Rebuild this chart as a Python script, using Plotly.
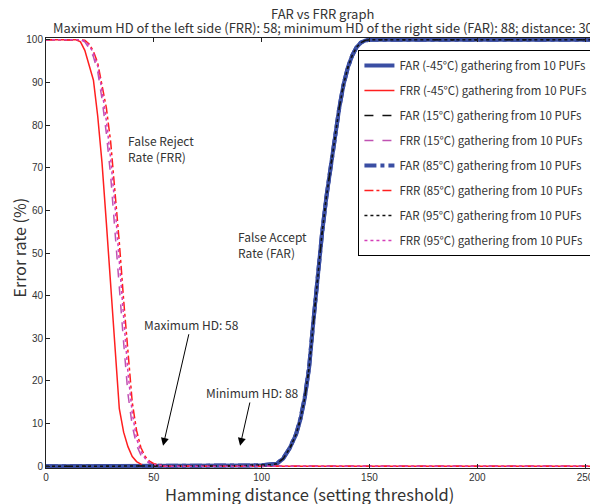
import plotly.graph_objects as go

# ---- data ----
hd_far = [0, 87, 88, 95, 100, 105, 107, 110, 113, 116, 118, 120, 122, 124, 126,
          128, 130, 132, 134, 136, 138, 140, 142, 144, 146, 148, 150, 256]
far_m45 = [0, 0, 0.1, 0.2, 0.25, 0.4, 0.6, 1.8, 4.2, 7.5, 11, 16, 23, 34, 45,
           54.5, 63, 69.5, 77, 84, 89.5, 93.5, 96.3, 98.2, 99.3, 99.8, 100, 100]
far_15 = [0, 0, 0.1, 0.2, 0.25, 0.4, 0.6, 1.8, 4.1, 7.4, 11, 16, 23, 34, 45,
          54.5, 63, 69.5, 77, 84, 89.5, 93.5, 96.3, 98.2, 99.3, 99.8, 100, 100]
far_85 = [0, 0, 0.1, 0.2, 0.25, 0.4, 0.6, 1.9, 4.3, 7.6, 11.2, 16.2, 23.2, 34, 45,
          54.5, 63, 69.5, 77, 84, 89.5, 93.5, 96.3, 98.2, 99.3, 99.8, 100, 100]
far_95 = [0, 0, 0.1, 0.2, 0.25, 0.4, 0.6, 1.8, 4.2, 7.5, 11, 16, 23, 34, 45,
          54.5, 63, 69.5, 77, 84, 89.5, 93.5, 96.3, 98.2, 99.3, 99.8, 100, 100]

hd_frr = [0, 14, 16, 18, 20, 22, 24, 26, 28, 30, 32, 34, 36, 38, 40, 42, 44,
          46, 48, 50, 52, 54, 56, 58, 60, 256]
frr_m45 = [100, 100, 99.5, 97.5, 94, 90.5, 82, 71, 57, 43, 28, 13.5, 8, 4.6,
           2.3, 1.1, 0.5, 0.2, 0, 0, 0, 0, 0, 0, 0, 0]
frr_15 = [100, 100, 100, 99.5, 98, 96, 92.5, 86, 78, 68, 56, 42, 29, 17, 9.5,
          5, 2.6, 1.4, 0.7, 0.35, 0.15, 0, 0, 0, 0, 0]
frr_85 = [100, 100, 100, 99.9, 99, 97.3, 94.5, 89.5, 84, 76, 65, 52.5, 39, 26,
          15, 8.4, 4.4, 2.3, 1.2, 0.6, 0.3, 0.15, 0.05, 0, 0, 0]
frr_95 = [100, 100, 100, 99.7, 98.7, 96.8, 93.8, 88, 81, 72, 61, 48, 35, 22,
          12.5, 6.5, 3.5, 1.8, 0.9, 0.45, 0.2, 0.05, 0, 0, 0, 0]

x_ticks = [0, 50, 100, 150, 200, 250]
y_ticks = [0, 10, 20, 30, 40, 50, 60, 70, 80, 90, 100]

title1 = "FAR vs FRR graph"
title2 = ("Maximum HD of the left side (FRR): 58; minimum HD of the right side "
          "(FAR): 88; distance: 30")
x_title = "Hamming distance (setting threshold)"
y_title = "Error rate (%)"

BLUE = "#3a4ea3"
RED = "#ff1f1f"
MAG = "#c052b2"
MAG2 = "#d43fb8"
JP = "Noto Sans CJK JP"
TXT = "#333333"

series = [
    ("FAR (-45°C) gathering from 10 PUFs", hd_far, far_m45, BLUE, "solid", 4),
    ("FRR (-45°C) gathering from 10 PUFs", hd_frr, frr_m45, RED, "solid", 1.5),
    ("FAR (15°C) gathering from 10 PUFs", hd_far, far_15, "#111111", "dash", 1.5),
    ("FRR (15°C) gathering from 10 PUFs", hd_frr, frr_15, MAG, "dash", 1.5),
    ("FAR (85°C) gathering from 10 PUFs", hd_far, far_85, BLUE, "dashdot", 4),
    ("FRR (85°C) gathering from 10 PUFs", hd_frr, frr_85, RED, "dashdot", 1.5),
    ("FAR (95°C) gathering from 10 PUFs", hd_far, far_95, "#111111", "dot", 1.5),
    ("FRR (95°C) gathering from 10 PUFs", hd_frr, frr_95, MAG2, "dot", 1.5),
]

fig = go.Figure()
for i, (name, xs, ys, col, dash, w) in enumerate(series):
    fig.add_trace(go.Scatter(x=xs, y=ys, mode="lines", name=name,
                             legendgroup=f"g{i}",
                             line=dict(color=col, dash=dash, width=w)))

ann_font = dict(family=JP, size=12, color=TXT)
annotations = [
    dict(text=title1, xref="paper", yref="paper", x=0.5, y=1, yshift=24.5,
         yanchor="middle", showarrow=False,
         font=dict(family=JP, size=13, color=TXT)),
    dict(text=title2, xref="paper", yref="paper", x=0.5, y=1, xshift=1,
         yshift=11, yanchor="middle", showarrow=False,
         font=dict(family=JP, size=12.9, color=TXT)),
    dict(text=x_title, xref="paper", yref="paper", x=0.478, y=0, yshift=-26,
         yanchor="middle", showarrow=False,
         font=dict(family=JP, size=16.5, color=TXT)),
    dict(text=y_title, xref="paper", yref="paper", x=0, xshift=-27, y=0.513,
         xanchor="center", yanchor="middle", textangle=-90, showarrow=False,
         font=dict(family=JP, size=16, color=TXT)),
    dict(text="False Reject<br>Rate (FRR)", x=37, y=74.5, xanchor="left",
         align="left", showarrow=False, font=ann_font),
    dict(text="False Accept<br>Rate (FAR)", x=88, y=52, xanchor="left",
         align="left", showarrow=False, font=ann_font),
    dict(text="Maximum HD: 58", x=54.3, y=4.8, ax=67.3, ay=33.3,
         axref="x", ayref="y", showarrow=True, arrowhead=2, arrowsize=1.6,
         arrowwidth=1, arrowcolor="black", font=ann_font),
    dict(text="Minimum HD: 88", x=90, y=4.8, ax=95.6, ay=17.3,
         axref="x", ayref="y", showarrow=True, arrowhead=2, arrowsize=1.6,
         arrowwidth=1, arrowcolor="black", font=ann_font),
]

fig.update_layout(
    width=598, height=504,
    margin=dict(l=38, r=8, t=30, b=44, autoexpand=False),
    plot_bgcolor="white", paper_bgcolor="white",
    showlegend=True,
    legend=dict(x=0.566, y=0.972, xanchor="left", yanchor="top",
                bgcolor="white", bordercolor="black", borderwidth=1,
                font=dict(family=JP, size=11.5, color=TXT),
                tracegroupgap=6),
    annotations=annotations,
    xaxis=dict(range=[0, 256], tickvals=x_ticks, ticks="inside", ticklen=4,
               automargin=False,
               showgrid=False, zeroline=False, showline=True,
               linecolor="#222222", linewidth=1, mirror="ticks",
               tickcolor="#222222",
               tickfont=dict(family="Liberation Sans", size=10, color=TXT)),
    yaxis=dict(range=[-0.4, 100.4], tickvals=y_ticks, ticks="inside", ticklen=4,
               automargin=False,
               showgrid=False, zeroline=False, showline=True,
               linecolor="#222222", linewidth=1, tickcolor="#222222",
               tickfont=dict(family="Liberation Sans", size=10, color=TXT)),
)

fig.write_html("out.html")
